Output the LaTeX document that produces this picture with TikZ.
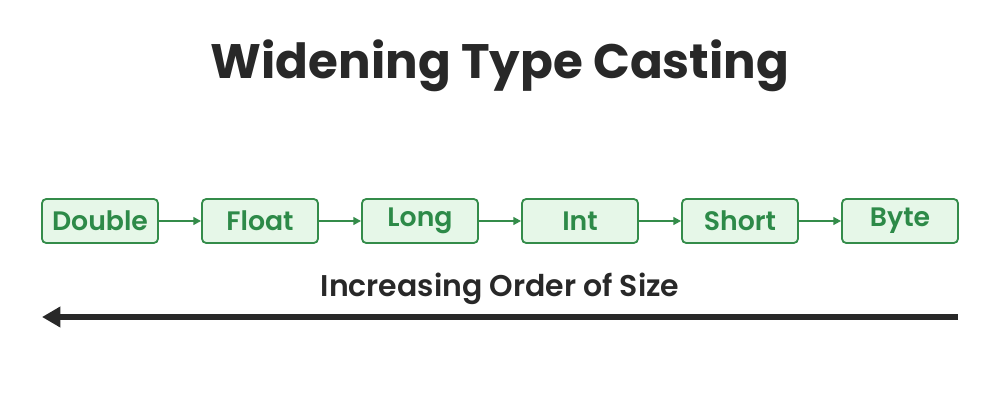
\documentclass[tikz,border=0pt]{standalone}
\usepackage{fontspec}
\setmainfont{Poppins}[BoldFont={Poppins SemiBold}]
\newfontfamily\titlefont{Poppins}
\usetikzlibrary{arrows.meta}
\definecolor{gborder}{RGB}{52,140,74}
\definecolor{gfill}{RGB}{230,247,232}
\definecolor{gtext}{RGB}{45,138,72}
\definecolor{dark}{RGB}{40,40,40}
\tikzset{
  typebox/.style={draw=gborder, fill=gfill, line width=1.3pt, rounded corners=3pt,
    minimum width=116*0.025cm, minimum height=44*0.025cm, inner sep=0pt,
    text=gtext, font=\fontsize{19}{21}\selectfont\bfseries},
  conn/.style={draw=gborder, line width=1.3pt, -{Triangle[length=5.5pt,width=5.5pt]}},
}
\begin{document}
\begin{tikzpicture}[x=0.025cm,y=-0.025cm]
\useasboundingbox (0,0) rectangle (1000,400);
\node[font=\titlefont\fontsize{34.4}{38}\selectfont\bfseries, text=dark] (title) at (500,66) {Widening Type Casting};
\node[typebox] (double) at (100,221) {Double};
\node[typebox] (float) at (260,221) {Float};
\node[typebox] (long) at (420,221) {Long};
\node[typebox] (int) at (580,221) {Int};
\node[typebox] (short) at (740,221) {Short};
\node[typebox] (byte) at (900,221) {Byte};
\draw[conn] (double) -- (float);
\draw[conn] (float) -- (long);
\draw[conn] (long) -- (int);
\draw[conn] (int) -- (short);
\draw[conn] (short) -- (byte);
\node[font=\fontsize{21.3}{24}\selectfont\bfseries, text=dark] (label) at (500,289) {Increasing Order of Size};
\coordinate (aright) at (958,317);
\coordinate (aleft) at (42,317);
\draw[dark, line width=4.2pt, -{Triangle[length=13pt,width=14pt]}] (aright) -- (aleft);
\end{tikzpicture}
\end{document}
